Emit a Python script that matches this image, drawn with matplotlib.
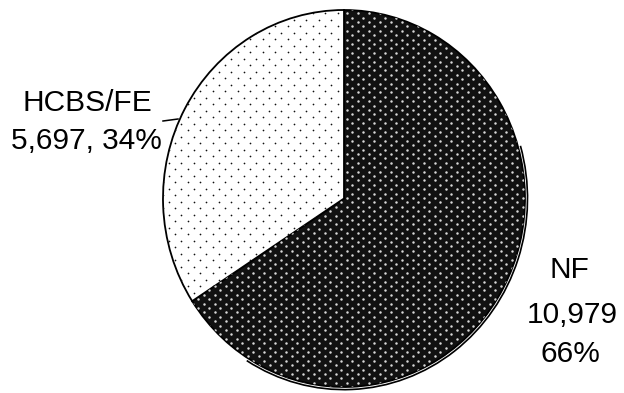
import numpy as np
import matplotlib
matplotlib.use("Agg")
import matplotlib.pyplot as plt
from matplotlib.patches import Arc

plt.rcParams['font.family'] = ['Liberation Sans', 'DejaVu Sans']

labels = ["NF", "HCBS/FE"]
values = [10979, 5697]
face_colors = ["#111111", "#ffffff"]
dot_colors = ["#d8d8d8", "#111111"]

W, H = 624, 393
fig = plt.figure(figsize=(W / 100, H / 100), dpi=100)

# pie axes: centre (344,198), radius ~181 x 188 px
cx, cy, rx, ry = 344, 198.5, 181, 188.5
ax = fig.add_axes([(cx - rx) / W, (H - cy - ry) / H, 2 * rx / W, 2 * ry / H])
wedges, _ = ax.pie(values, startangle=90, counterclock=False, colors=face_colors,
                   wedgeprops=dict(edgecolor="black", linewidth=1.3))
ax.set_aspect("auto")
ax.set_xlim(-1, 1)
ax.set_ylim(-1, 1)
ax.axis("off")

# outer "shadow" outline around the dark slice
ax.add_patch(Arc((0, 0), 2.028, 2.028, theta1=-122, theta2=16, color="black", lw=1.2, clip_on=False))

# overlay axes in pixel coordinates for dot textures and labels
ov = fig.add_axes([0, 0, 1, 1])
ov.set_xlim(0, W)
ov.set_ylim(H, 0)
ov.axis("off")
ov.patch.set_alpha(0)


def dot_grid(dx, dy, size, color, wedge):
    pts = []
    for i, y in enumerate(np.arange(0, H, dy)):
        off = (dx / 2) if i % 2 else 0
        for x in np.arange(off, W, dx):
            pts.append((x, y))
    pts = np.array(pts)
    sc = ov.scatter(pts[:, 0], pts[:, 1], s=size, c=color, marker="o", linewidths=0)
    sc.set_clip_path(wedge)


dot_grid(11, 4.4, 3.2, dot_colors[0], wedges[0])
dot_grid(12.5, 6.5, 1.5, dot_colors[1], wedges[1])

total = sum(values)
pcts = [round(v / total * 100) for v in values]

# HCBS/FE label
ov.text(87, 111, labels[1], ha="center", va="baseline", fontsize=21.5)
ov.text(86, 149, f"{values[1]:,}, {pcts[1]}%", ha="center", va="baseline", fontsize=21.5)
ov.plot([163, 178], [121, 119], color="black", lw=1.1)

# NF label
ov.text(569, 278, labels[0], ha="center", va="baseline", fontsize=21.5)
ov.text(572, 323, f"{values[0]:,}", ha="center", va="baseline", fontsize=21.5)
ov.text(570, 362, f"{pcts[0]}%", ha="center", va="baseline", fontsize=21.5)

fig.savefig("out.png", dpi=100, facecolor="white")
